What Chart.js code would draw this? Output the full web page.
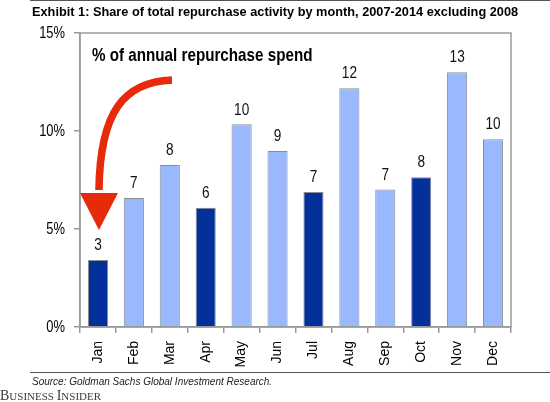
<!DOCTYPE html>
<html>
<head>
<meta charset="utf-8">
<script src="https://cdn.jsdelivr.net/npm/chart.js@4"></script>
<style>
  html, body { margin: 0; padding: 0; background: #fff; }
  #wrap { width: 550px; height: 402px; position: relative; }
</style>
</head>
<body>
<div id="wrap"><canvas id="repurchase-chart" width="550" height="402"></canvas></div>
<script>
// Share of total repurchase activity by month (2007-2014 ex 2008)
const months = ['Jan', 'Feb', 'Mar', 'Apr', 'May', 'Jun', 'Jul', 'Aug', 'Sep', 'Oct', 'Nov', 'Dec'];
const shareValues = [3.42, 6.58, 8.27, 6.09, 10.34, 8.98, 6.89, 12.18, 7.02, 7.64, 13.0, 9.58];
const shareLabels = ['3', '7', '8', '6', '10', '9', '7', '12', '7', '8', '13', '10'];
const quarterStart = [true, false, false, true, false, false, true, false, false, true, false, false];
const yTicks = [0, 5, 10, 15];

const SANS = '"Liberation Sans", Arial, sans-serif';
const DARK = '#03309b';
const LIGHT = '#99b8fe';

// text squeezed sideways, the source uses a narrow face
function narrowText(ctx, text, x, y, squeeze) {
    ctx.save();
    ctx.translate(x, y);
    ctx.scale(squeeze, 1);
    ctx.fillText(text, 0, 0);
    ctx.restore();
}

// draws the box, tick labels, value labels, arrow and the page texts
const decorPlugin = {
    id: 'decor',
    afterDatasetsDraw(chart) {
        const ctx = chart.ctx;
        const area = chart.chartArea;
        const x = chart.scales.x;
        const y = chart.scales.y;
        ctx.save();

        // plot box
        ctx.strokeStyle = '#9a9a9a';
        ctx.lineWidth = 1.5;
        ctx.strokeRect(area.left, area.top, area.right - area.left, area.bottom - area.top);

        // y tick labels
        ctx.fillStyle = '#000';
        ctx.font = '17px ' + SANS;
        ctx.textAlign = 'right';
        ctx.textBaseline = 'middle';
        y.ticks.forEach(t => {
            narrowText(ctx, t.value + '%', area.left - 15, y.getPixelForValue(t.value), 0.76);
        });

        // value labels
        ctx.fillStyle = '#111';
        ctx.font = '17px ' + SANS;
        ctx.textAlign = 'center';
        ctx.textBaseline = 'bottom';
        const meta = chart.getDatasetMeta(0);
        meta.data.forEach((bar, i) => {
            narrowText(ctx, shareLabels[i], bar.x, bar.y - 6, 0.8);
        });

        // annotation text
        ctx.fillStyle = '#000';
        ctx.font = 'bold 19px ' + SANS;
        ctx.textAlign = 'left';
        ctx.textBaseline = 'middle';
        narrowText(ctx, '% of annual repurchase spend', area.left + 12, 56, 0.8);

        // red arrow pointing at January
        const tipX = x.getPixelForValue(0) + 1;
        const tipY = y.getPixelForValue(4.95);
        ctx.strokeStyle = '#e62a0a';
        ctx.fillStyle = '#e62a0a';
        ctx.lineWidth = 7.5;
        ctx.lineCap = 'butt';
        ctx.beginPath();
        ctx.moveTo(172, 80);
        ctx.bezierCurveTo(125, 82, 100, 110, tipX, tipY - 40);
        ctx.stroke();
        ctx.beginPath();
        ctx.moveTo(tipX - 19, tipY - 37);
        ctx.lineTo(tipX + 19, tipY - 37);
        ctx.lineTo(tipX, tipY);
        ctx.closePath();
        ctx.fill();

        // title
        ctx.fillStyle = '#000';
        ctx.font = 'bold 12.75px ' + SANS;
        ctx.textAlign = 'left';
        ctx.textBaseline = 'middle';
        ctx.fillText('Exhibit 1: Share of total repurchase activity by month, 2007-2014 excluding 2008', 32, 12);

        // rules
        ctx.strokeStyle = '#555';
        ctx.lineWidth = 1;
        ctx.beginPath();
        ctx.moveTo(30, 0.5);
        ctx.lineTo(550, 0.5);
        ctx.moveTo(30, 372.5);
        ctx.lineTo(550, 372.5);
        ctx.stroke();

        // source
        ctx.fillStyle = '#222';
        ctx.font = 'italic 10px ' + SANS;
        ctx.fillText('Source: Goldman Sachs Global Investment Research.', 32, 382);

        // brand
        const SERIF = '"Liberation Serif", "DejaVu Serif", serif';
        ctx.fillStyle = '#3a3a3a';
        let bx = 0;
        [['B', 14], ['USINESS ', 11], ['I', 14], ['NSIDER', 11]].forEach(([s, size]) => {
            ctx.font = size + 'px ' + SERIF;
            ctx.textBaseline = 'alphabetic';
            ctx.fillText(s, bx, 400);
            bx += ctx.measureText(s).width;
        });

        ctx.restore();
    }
};

const ctx = document.getElementById('repurchase-chart').getContext('2d');
const repurchaseChart = new Chart(ctx, {
    type: 'bar',
    data: {
        labels: months,
        datasets: [{
            data: shareValues,
            backgroundColor: quarterStart.map(q => q ? DARK : LIGHT),
            borderColor: '#8c8c8c',
            borderWidth: 1,
            categoryPercentage: 1,
            barPercentage: 0.56
        }]
    },
    options: {
        responsive: false,
        animation: false,
        layout: { padding: { top: 33, right: 39, left: 0, bottom: 0 } },
        plugins: {
            legend: { display: false },
            tooltip: { enabled: false }
        },
        scales: {
            x: {
                afterFit: scale => { scale.height = 75; },
                grid: {
                    offset: true,
                    drawOnChartArea: false,
                    tickLength: 6,
                    color: '#9a9a9a',
                    lineWidth: 1.5
                },
                border: { color: '#9a9a9a', width: 1.5 },
                ticks: {
                    minRotation: 90,
                    maxRotation: 90,
                    padding: 8,
                    color: '#000',
                    font: { family: SANS, size: 14 }
                }
            },
            y: {
                min: 0,
                max: 15,
                afterFit: scale => { scale.width = 80; },
                afterBuildTicks: scale => { scale.ticks = yTicks.map(v => ({ value: v })); },
                grid: {
                    drawOnChartArea: false,
                    tickLength: 6,
                    color: '#9a9a9a',
                    lineWidth: 1.5
                },
                border: { color: '#9a9a9a', width: 1.5 },
                ticks: {
                    color: 'rgba(0,0,0,0)',
                    font: { family: SANS, size: 12 }
                }
            }
        }
    },
    plugins: [decorPlugin]
});
</script>
</body>
</html>
